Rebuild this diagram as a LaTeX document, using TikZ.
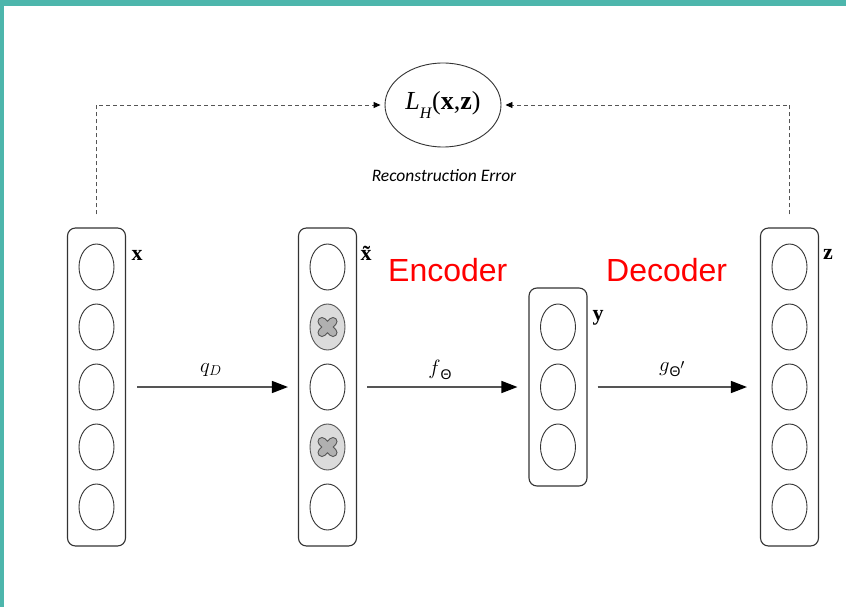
\documentclass[tikz,border=0pt]{standalone}
\usepackage{fontspec}
\usetikzlibrary{shapes.geometric,arrows.meta,positioning}
\newfontfamily\tmsfont{Liberation Serif}
\newfontfamily\arsfont{Liberation Sans}
\newfontfamily\calfont{Carlito}
\definecolor{frame}{HTML}{4DB6AC}
\definecolor{edge}{HTML}{333333}
\definecolor{shaft}{HTML}{555555}
\tikzset{
  layer/.style={draw=edge, line width=1.1pt, rounded corners=8pt, minimum width=58pt, inner sep=0pt},
  unit/.style={ellipse, draw=edge, line width=0.9pt, minimum width=35pt, minimum height=46pt, inner sep=0pt},
  dropped/.style={unit, fill=gray!28, draw=shaft},
  veclabel/.style={font=\tmsfont\fontsize{22}{24}\selectfont\bfseries, inner sep=0pt},
  maplabel/.style={font=\fontsize{20}{22}\selectfont, inner sep=0pt},
  flow/.style={draw=shaft, line width=1.4pt, -{Triangle[length=16pt,width=12pt,color=black]}},
  feedback/.style={draw=shaft, line width=0.9pt, dash pattern=on 4pt off 3pt, -{Triangle[length=7pt,width=6pt,color=black]}},
  partname/.style={font=\arsfont\fontsize{32}{36}\selectfont, text=red, inner sep=0pt, anchor=base west}
}
% grey cross drawn over a dropped unit
\newcommand{\crossmark}[1]{%
  \draw[line width=9pt, line cap=round, shaft] ([shift={(-5.5pt,-5.5pt)}]#1) -- ([shift={(5.5pt,5.5pt)}]#1)
        ([shift={(-5.5pt,5.5pt)}]#1) -- ([shift={(5.5pt,-5.5pt)}]#1);
  \draw[line width=6.8pt, line cap=round, gray!62] ([shift={(-5.5pt,-5.5pt)}]#1) -- ([shift={(5.5pt,5.5pt)}]#1)
        ([shift={(-5.5pt,5.5pt)}]#1) -- ([shift={(5.5pt,-5.5pt)}]#1);
}
\newcommand{\sfTheta}{{\arsfont\fontsize{14}{16}\selectfont Θ}}
\begin{document}
\begin{tikzpicture}[x=1pt, y=-1pt]
  \useasboundingbox (0,0) rectangle (846,607);
  \fill[white] (0,0) rectangle (846,607);
  % frame bars
  \fill[frame] (0,0) rectangle (846,6);
  \fill[frame] (0,0) rectangle (4,607);

  % layer boxes
  \node[layer, minimum height=318pt] (xbox)  at (96.5,387) {};
  \node[layer, minimum height=318pt] (xtbox) at (327.5,387) {};
  \node[layer, minimum height=198pt] (ybox)  at (558,387) {};
  \node[layer, minimum height=318pt] (zbox)  at (789.5,387) {};

  % input units
  \foreach \i/\yy in {1/267,2/327,3/387,4/447,5/507} {
    \node[unit] (x\i) at (96.5,\yy) {};
    \node[unit] (z\i) at (789.5,\yy) {};
  }
  % corrupted input units
  \node[unit]    (xt1) at (327.5,267) {};
  \node[dropped] (xt2) at (327.5,327) {};
  \node[unit]    (xt3) at (327.5,387) {};
  \node[dropped] (xt4) at (327.5,447) {};
  \node[unit]    (xt5) at (327.5,507) {};
  \crossmark{xt2.center}
  \crossmark{xt4.center}
  % hidden units
  \node[unit] (y1) at (558,327) {};
  \node[unit] (y2) at (558,387) {};
  \node[unit] (y3) at (558,447) {};

  % vector labels
  \node[veclabel] (lx)  at (137,255) {x};
  \node[veclabel] (lxt) at (366,253) {\~{x}};
  \node[veclabel] (ly)  at (598,318) {y};
  \node[veclabel] (lz)  at (828,254) {z};

  % section titles
  \node[partname] (enc) at (388,281) {Encoder};
  \node[partname] (dec) at (606,281) {Decoder};

  % mappings
  \draw[flow, shorten <=11pt, shorten >=10pt] (xbox.east) -- (xtbox.west);
  \draw[flow, shorten <=10pt, shorten >=11pt] (xtbox.east) -- (ybox.west);
  \draw[flow, shorten <=10pt, shorten >=13pt] (ybox.east) -- (zbox.west);
  \node[maplabel] (lq) at (211,370) {$q_D$};
  \node[maplabel] (lf) at (440,370) {$f$\raisebox{-0.25em}{\sfTheta}};
  \node[maplabel] (lg) at (672,369) {$g$\raisebox{-0.25em}{\sfTheta$'$}};

  % reconstruction error
  \node[ellipse, draw=edge, line width=0.9pt, minimum width=116pt, minimum height=84pt, inner sep=0pt]
    (err) at (443,105)
    {\tmsfont\fontsize{26}{30}\selectfont\textit{L}\raisebox{-0.36em}{\fontsize{16}{18}\selectfont\textit{H}}(\textbf{x},\textbf{z})};
  \node[font=\calfont\itshape\fontsize{17.5}{20}\selectfont, inner sep=0pt] (errname) at (444,176) {Reconstruction Error};

  \draw[feedback, shorten <=13pt, shorten >=4pt] (xbox.north) |- (err.west);
  \draw[feedback, shorten <=13pt, shorten >=4pt] (zbox.north) |- (err.east);
\end{tikzpicture}
\end{document}
